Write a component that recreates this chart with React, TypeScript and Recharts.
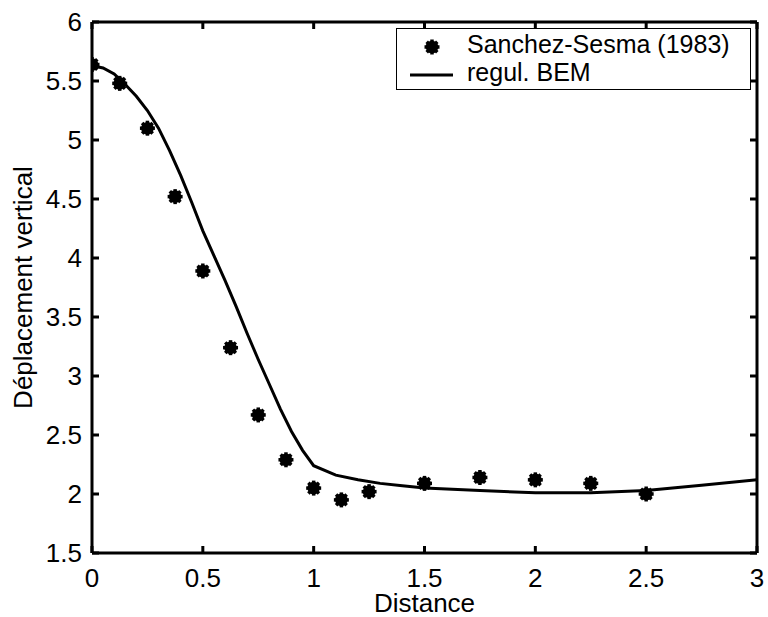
import React from 'react';
import { ComposedChart, Line, Scatter, XAxis, YAxis, Legend } from 'recharts';

const FONT = '"Liberation Sans", Arial, Helvetica, sans-serif';

const seriesNames = ['Sanchez-Sesma (1983)', 'regul. BEM'];
const xAxisTitle = 'Distance';
const yAxisTitle = 'Déplacement vertical';

const xTicks = [0, 0.5, 1, 1.5, 2, 2.5, 3];
const xTickLabels = ['0', '0.5', '1', '1.5', '2', '2.5', '3'];
const yTicks = [1.5, 2, 2.5, 3, 3.5, 4, 4.5, 5, 5.5, 6];
const yTickLabels = ['1.5', '2', '2.5', '3', '3.5', '4', '4.5', '5', '5.5', '6'];

const refX = [0, 0.125, 0.25, 0.375, 0.5, 0.625, 0.75, 0.875, 1.0, 1.125, 1.25, 1.5, 1.75, 2.0, 2.25, 2.5];
const refY = [5.64, 5.48, 5.1, 4.52, 3.89, 3.24, 2.67, 2.29, 2.05, 1.95, 2.02, 2.09, 2.14, 2.12, 2.09, 2.0];

const bemX = [0, 0.05, 0.1, 0.15, 0.2, 0.25, 0.3, 0.35, 0.4, 0.45, 0.5, 0.55, 0.6, 0.65, 0.7, 0.75, 0.8, 0.85, 0.9, 0.95, 1.0, 1.1, 1.2, 1.3, 1.4, 1.5, 1.75, 2.0, 2.25, 2.5, 2.75, 3.0];
const bemY = [5.63, 5.61, 5.56, 5.47, 5.37, 5.25, 5.1, 4.91, 4.7, 4.47, 4.23, 4.02, 3.81, 3.59, 3.36, 3.14, 2.93, 2.72, 2.53, 2.37, 2.24, 2.16, 2.12, 2.09, 2.07, 2.05, 2.03, 2.01, 2.01, 2.03, 2.075, 2.12];

const refData = refX.map((x, i) => ({ x, y: refY[i] }));
const bemData = bemX.map((x, i) => ({ x, y: bemY[i] }));

const TICK_LEN = 7;

const labelOf = (vals: number[], labels: string[], v: number) => {
  const i = vals.findIndex((t) => Math.abs(t - v) < 1e-9);
  return i >= 0 ? labels[i] : String(v);
};

const BottomTick = (props: any) => {
  const { x, y, payload } = props;
  return (
    <g>
      <line x1={x} x2={x} y1={y} y2={y - TICK_LEN} stroke="#000" strokeWidth={3} />
      <text x={x} y={y + 34} textAnchor="middle" fontSize={26} fontFamily={FONT} fill="#000">
        {labelOf(xTicks, xTickLabels, payload.value)}
      </text>
    </g>
  );
};

const TopTick = (props: any) => {
  const { x, y } = props;
  return <line x1={x} x2={x} y1={y} y2={y + TICK_LEN} stroke="#000" strokeWidth={3} />;
};

const LeftTick = (props: any) => {
  const { x, y, payload } = props;
  return (
    <g>
      <line x1={x} x2={x + TICK_LEN} y1={y} y2={y} stroke="#000" strokeWidth={3} />
      <text x={x - 10} y={y + 9} textAnchor="end" fontSize={26} fontFamily={FONT} fill="#000">
        {labelOf(yTicks, yTickLabels, payload.value)}
      </text>
    </g>
  );
};

const RightTick = (props: any) => {
  const { x, y } = props;
  return <line x1={x} x2={x - TICK_LEN} y1={y} y2={y} stroke="#000" strokeWidth={3} />;
};

const StarMarker = (props: any) => {
  const { cx, cy } = props;
  if (cx == null || cy == null) return null;
  const r = 7.5;
  const spokes = [0, 45, 90, 135].map((a) => {
    const rad = (a * Math.PI) / 180;
    const dx = Math.cos(rad) * r;
    const dy = Math.sin(rad) * r;
    return <line key={a} x1={cx - dx} y1={cy - dy} x2={cx + dx} y2={cy + dy} stroke="#000" strokeWidth={3.5} />;
  });
  return (
    <g>
      <circle cx={cx} cy={cy} r={6.3} fill="#000" />
      {spokes}
    </g>
  );
};

const LegendBox = () => (
  <div style={{ width: 355, height: 62, border: '1.5px solid #000', boxSizing: 'border-box', background: '#fff' }}>
    <svg width={352} height={59} style={{ display: 'block' }}>
      <StarMarker cx={35} cy={18} />
      <text x={70} y={24} fontSize={25} fontFamily={FONT} fill="#000">{seriesNames[0]}</text>
      <line x1={13} x2={56} y1={46} y2={46} stroke="#000" strokeWidth={3} />
      <text x={70} y={52} fontSize={25} fontFamily={FONT} fill="#000">{seriesNames[1]}</text>
    </svg>
  </div>
);

const YTitle = (props: any) => {
  const vb = props.viewBox || {};
  const cy = vb.y + vb.height / 2;
  const x = 32;
  return (
    <text x={x} y={cy} transform={`rotate(-90 ${x} ${cy})`} textAnchor="middle" fontSize={26} fontFamily={FONT} fill="#000">
      {yAxisTitle}
    </text>
  );
};

const XTitle = (props: any) => {
  const vb = props.viewBox || {};
  const cx = vb.x + vb.width / 2;
  return (
    <text x={cx} y={612} textAnchor="middle" fontSize={26} fontFamily={FONT} fill="#000">
      {xAxisTitle}
    </text>
  );
};

export default function App() {
  return (
    <div style={{ position: 'absolute', left: 0, top: 0, width: 768, height: 617, background: '#fff' }}>
      <ComposedChart width={768} height={617} margin={{ top: 21, right: 10, bottom: 0, left: 0 }}>
        <XAxis
          xAxisId="b"
          type="number"
          dataKey="x"
          domain={[0, 3]}
          ticks={xTicks}
          allowDataOverflow
          height={64}
          tickSize={0}
          tickMargin={0}
          tickLine={false}
          axisLine={{ stroke: '#000', strokeWidth: 3 }}
          tick={<BottomTick />}
          interval={0}
          label={<XTitle />}
        />
        <XAxis
          xAxisId="t"
          orientation="top"
          type="number"
          dataKey="x"
          domain={[0, 3]}
          ticks={xTicks}
          allowDataOverflow
          height={1}
          tickSize={0}
          tickMargin={0}
          tickLine={false}
          axisLine={{ stroke: '#000', strokeWidth: 3 }}
          tick={<TopTick />}
          interval={0}
        />
        <YAxis
          yAxisId="l"
          type="number"
          dataKey="y"
          domain={[1.5, 6]}
          ticks={yTicks}
          allowDataOverflow
          width={92}
          tickSize={0}
          tickMargin={0}
          tickLine={false}
          axisLine={{ stroke: '#000', strokeWidth: 3 }}
          tick={<LeftTick />}
          interval={0}
          label={<YTitle />}
        />
        <YAxis
          yAxisId="r"
          orientation="right"
          type="number"
          dataKey="y"
          domain={[1.5, 6]}
          ticks={yTicks}
          allowDataOverflow
          width={1}
          tickSize={0}
          tickMargin={0}
          tickLine={false}
          axisLine={{ stroke: '#000', strokeWidth: 3 }}
          tick={<RightTick />}
          interval={0}
        />
        <Line
          xAxisId="b"
          yAxisId="l"
          data={bemData}
          dataKey="y"
          name={seriesNames[1]}
          type="linear"
          stroke="#000"
          strokeWidth={3}
          dot={false}
          activeDot={false}
          isAnimationActive={false}
        />
        <Scatter
          xAxisId="b"
          yAxisId="l"
          data={refData}
          dataKey="y"
          name={seriesNames[0]}
          fill="#000"
          shape={<StarMarker />}
          isAnimationActive={false}
        />
        <Legend
          layout="horizontal"
          verticalAlign="middle"
          align="center"
          content={<LegendBox />}
          wrapperStyle={{ left: 396, top: 28, width: 355, height: 62 }}
        />
      </ComposedChart>
    </div>
  );
}
